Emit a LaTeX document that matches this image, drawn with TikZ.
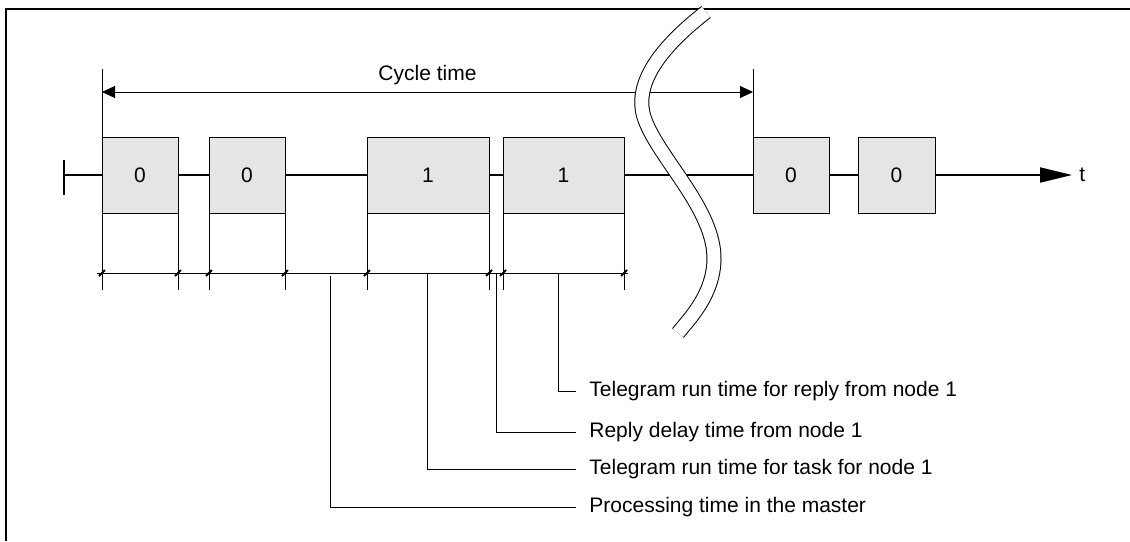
\documentclass[tikz,border=0pt]{standalone}
\usepackage{fontspec}
\setmainfont{Liberation Sans}
\usetikzlibrary{arrows.meta}

\begin{document}
\begin{tikzpicture}[
    x=0.5pt, y=-0.5pt,
    every node/.style={font=\fontsize{10.5pt}{12.6pt}\selectfont},
    tgram/.style={rectangle, draw, line width=0.5pt, fill=gray!20, minimum height=38pt, outer sep=0pt, anchor=west},
    axis/.style={line width=1pt, -{Triangle[length=16pt, width=7.5pt]}},
    dimarr/.style={line width=0.5pt, {Triangle[length=6.5pt, width=6pt]}-{Triangle[length=6.5pt, width=6pt]}},
    ext/.style={line width=0.5pt},
    slash/.style={line width=1pt},
    lbl/.style={anchor=west, inner xsep=6.5pt},
]
\useasboundingbox (0,0) rectangle (1130,541);

% Frame
\draw[line width=1pt] (6,541) -- (6,9) -- (1130,9);

% Telegrams
\node[tgram, minimum width=38pt] (f1) at (102,175) {0};
\node[tgram, minimum width=38pt] (f2) at (209,175) {0};
\node[tgram, minimum width=61pt] (f3) at (367,175) {1};
\node[tgram, minimum width=60.5pt] (f4) at (503,175) {1};
\node[tgram, minimum width=38pt] (f5) at (753,175) {0};
\node[tgram, minimum width=38.5pt] (f6) at (858,175) {0};

% Time axis
\coordinate (t0) at (64,175);
\draw[line width=1pt] (64,160) -- (64,195);
\node[anchor=west, inner sep=3.5pt] (tlab) at (1072,175) {t};
\draw[line width=1pt] (t0) -- (f1.west) (f1.east) -- (f2.west) (f2.east) -- (f3.west)
    (f3.east) -- (f4.west) (f4.east) -- (f5.west) (f5.east) -- (f6.west);
\draw[axis] (f6.east) -- (tlab.west);

% Cycle time
\coordinate (cy) at (0,92);
\draw[ext] (f1.north west) -- ++(0,-68);
\draw[ext] (f5.north west) -- ++(0,-68);
\draw[dimarr] (f1.west |- cy) -- node[above] {Cycle time} (f5.west |- cy);

% Break
\draw[line width=0.5pt, double=white, double distance=6.5pt]
    (706,12) .. controls (670,40) and (630,80) .. (645,120)
    .. controls (660,160) and (715,210) .. (714,260)
    .. controls (713,295) and (690,318) .. (678,333);

% Dimension line
\coordinate (dim) at (0,273);
\draw[ext] (97,273) -- (628,273);
\foreach \f in {f1,f2,f3,f4}
  \foreach \a in {south west, south east} {
    \draw[ext] (\f.\a) -- ++(0,77);
    \draw[slash] (\f.\a |- dim) ++(-3,3) -- ++(6,-6);
  }

% Legend
\coordinate (p1) at (558,273);
\coordinate (p2) at (496,273);
\coordinate (p3) at (427,273);
\coordinate (p4) at (330,276);
\node[lbl] (r1) at (576,391) {Telegram run time for reply from node 1};
\node[lbl] (r2) at (576,432) {Reply delay time from node 1};
\node[lbl] (r3) at (576,469) {Telegram run time for task for node 1};
\node[lbl] (r4) at (576,507) {Processing time in the master};
\draw[ext] (p1) |- (r1.west);
\draw[ext] (p2) |- (r2.west);
\draw[ext] (p3) |- (r3.west);
\draw[ext] (p4) |- (r4.west);

\end{tikzpicture}
\end{document}
